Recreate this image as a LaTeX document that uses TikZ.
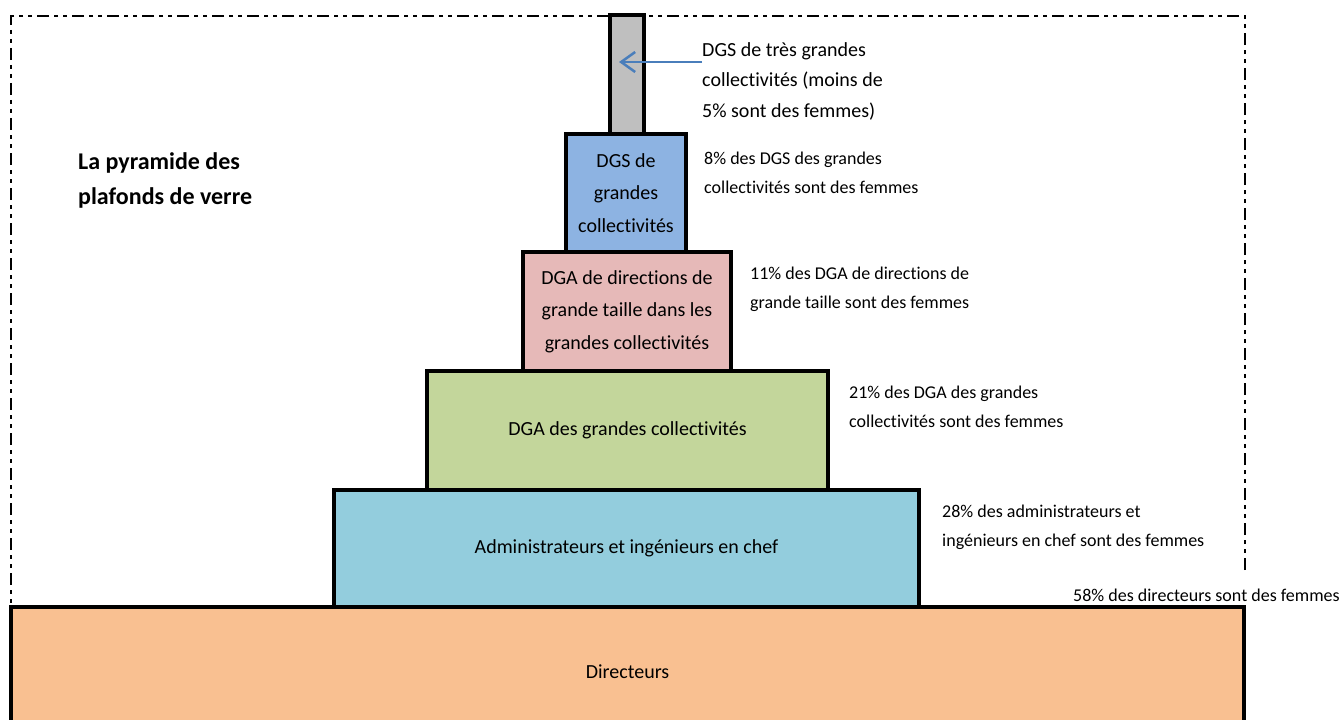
\documentclass[tikz,border=0pt]{standalone}
\usepackage{fontspec}
\setmainfont{Carlito}[Ligatures=NoCommon]
\usetikzlibrary{arrows.meta}
\definecolor{cgray}{HTML}{BFBFBF}
\definecolor{cblue}{HTML}{8DB3E2}
\definecolor{cpink}{HTML}{E6B9B8}
\definecolor{cgreen}{HTML}{C3D69B}
\definecolor{cteal}{HTML}{93CDDD}
\definecolor{corange}{HTML}{F9C091}
\definecolor{carrow}{HTML}{4A7EBB}
\tikzset{
  tier/.style={draw=black, line width=4pt, inner sep=0pt, align=center,
    font=\fontsize{20}{32.5}\selectfont},
  note/.style={anchor=west, inner sep=0pt, align=left,
    font=\fontsize{18}{29}\selectfont},
  frame/.style={line width=2.2pt, dash pattern=on 12pt off 5pt on 4pt off 5pt on 4pt off 5pt}
}
\begin{document}
\begin{tikzpicture}[x=1pt,y=-1pt]
\useasboundingbox (0,0) rectangle (1344,720);
\fill[white] (0,0) rectangle (1344,720);
% dashed frame
\draw[frame] (1245,570) -- (1245,16) -- (11,16) -- (11,607);
% pyramid tiers (bottom first)
\node[tier, fill=corange, minimum width=1233pt, minimum height=130pt] (dir) at (627.5,672) {Directeurs};
\node[tier, fill=cteal, minimum width=585pt, minimum height=117pt] (adm) at (626.5,548.5) {Administrateurs et ingénieurs en chef};
\node[tier, fill=cgreen, minimum width=401pt, minimum height=119pt] (dga) at (627.5,430.5) {DGA des grandes collectivités};
\node[tier, fill=cpink, minimum width=208pt, minimum height=119pt] (dgad) at (627,311.5) {DGA de directions de\\grande taille dans les\\grandes collectivités};
\node[tier, fill=cblue, minimum width=120pt, minimum height=118pt] (dgs) at (626,193) {DGS de\\grandes\\collectivités};
\node[tier, fill=cgray, minimum width=34pt, minimum height=119pt] (tgc) at (627,74.5) {};
% title
\node[anchor=west, inner sep=0pt, align=left, font=\fontsize{24}{35}\selectfont\bfseries] (title) at (78,180.5) {La pyramide des\\plafonds de verre};
% notes
\node[note, font=\fontsize{20}{30.5}\selectfont] (ntgc) at (702,81) {DGS de très grandes\\collectivités (moins de\\5\% sont des femmes)};
\node[note] (ndgs) at (704,173) {8\% des DGS des grandes\\collectivités sont des femmes};
\node[note] (ndgad) at (750,289) {11\% des DGA de directions de\\grande taille sont des femmes};
\node[note] (ndga) at (849,407) {21\% des DGA des grandes\\collectivités sont des femmes};
\node[note] (nadm) at (942,527.5) {28\% des administrateurs et\\ingénieurs en chef sont des femmes};
\node[note] (ndir) at (1073,595) {58\% des directeurs sont des femmes};
% arrow
\coordinate (arrS) at (702,62);
\coordinate (arrE) at (619,62);
\draw[carrow, line width=2.5pt, -{Straight Barb[length=14pt, width=20pt]}] (arrS) -- (arrE);
\end{tikzpicture}
\end{document}
